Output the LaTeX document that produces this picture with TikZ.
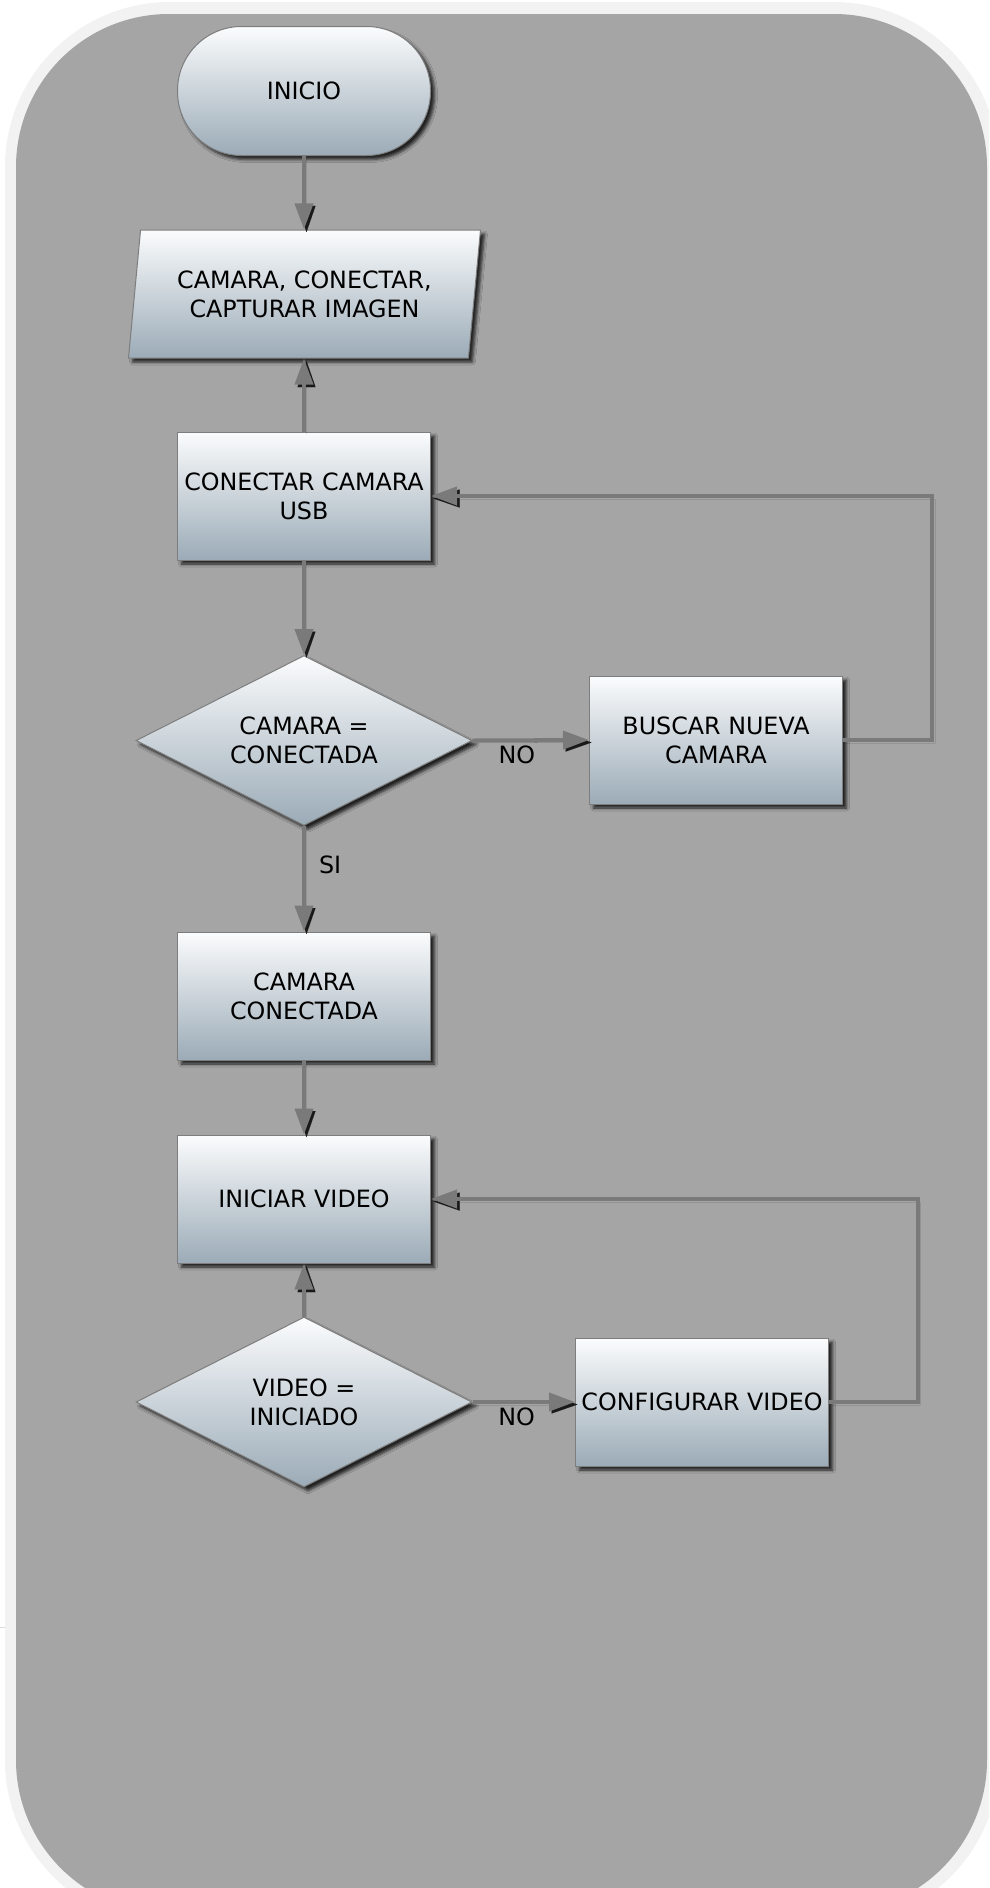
\documentclass[tikz,border=0pt]{standalone}
\usepackage{fontspec}
\setmainfont{DejaVu Sans}
\usetikzlibrary{shapes.geometric,arrows.meta,shadows.blur,calc}

\definecolor{pagebg}{RGB}{165,165,165}
\definecolor{band}{RGB}{242,242,242}
\definecolor{shadetop}{RGB}{251,252,253}
\definecolor{shadebot}{RGB}{155,171,183}
\definecolor{edge}{RGB}{125,125,125}
\definecolor{wire}{RGB}{122,122,122}

\tikzset{
  box/.style={draw=edge, line width=1pt, top color=shadetop, bottom color=shadebot,
    inner sep=0pt, align=center, font=\fontsize{23.8}{29}\selectfont, text=black,
    blur shadow={shadow xshift=4pt, shadow yshift=-4pt, shadow blur radius=3pt, shadow opacity=80}},
  terminal/.style={box, rectangle, rounded corners=64pt, minimum width=253pt, minimum height=129pt},
  ioshape/.style={box, trapezium, trapezium left angle=75.6, trapezium right angle=104.4,
    trapezium stretches body, minimum width=352pt, minimum height=128pt},
  process/.style={box, rectangle, minimum width=253pt, minimum height=128pt},
  decision/.style={box, diamond, aspect=2, minimum width=336pt, minimum height=170pt},
  tipshape/.tip={Triangle[length=26pt,width=18pt]},
  flow/.style={draw=wire, line width=4pt, line join=miter, -tipshape,
    preaction={draw=black!90, line width=0.01pt, -tipshape,
      transform canvas={shift={(2.5pt,-2.5pt)}}}},
  lbl/.style={inner sep=0pt, font=\fontsize{23.8}{29}\selectfont, text=black},
}

\begin{document}
\begin{tikzpicture}[x=1pt,y=-1pt]
  \useasboundingbox (0,0) rectangle (989,1888);
  \clip (0,0) rectangle (989,1888);

  % rounded panel behind the chart
  \fill[band, rounded corners=165pt] (5,2) rectangle (999,1925);
  \fill[pagebg, rounded corners=153pt] (16,14) rectangle (987,1913);
  \draw[band!80!gray, line width=1pt] (0,1627) -- (5,1627);

  % steps
  \node[terminal] (inicio) at (304,91) {INICIO};
  \node[ioshape]  (cam)    at (304.5,294) {CAMARA, CONECTAR,\\CAPTURAR IMAGEN};
  \node[process]  (usb)    at (304,496) {CONECTAR CAMARA\\USB};
  \node[decision] (d1)     at (304,740.5) {CAMARA =\\CONECTADA};
  \node[process]  (buscar) at (716,740) {BUSCAR NUEVA\\CAMARA};
  \node[process]  (ok)     at (304,996) {CAMARA\\CONECTADA};
  \node[process]  (video)  at (304,1199) {INICIAR VIDEO};
  \node[decision] (d2)     at (304,1402) {VIDEO =\\INICIADO};
  \node[process]  (config) at (702,1402) {CONFIGURAR VIDEO};

  \coordinate (loopA) at (932,496);
  \coordinate (loopB) at (917.5,1199);

  % connectors
  \draw[flow] (inicio.south) -- (inicio.south |- cam.north);
  \draw[flow] (usb.north) -- (usb.north |- cam.south);
  \draw[flow] (usb.south) -- (d1.north);
  \draw[flow] (d1.east) -- node[lbl, pos=0.38, below=4pt] {NO} (buscar.west);
  \draw[flow] (buscar.east) -| (loopA) -- (usb.east);
  \draw[flow] (d1.south) -- node[lbl, pos=0.37, right=13pt] {SI} (ok.north);
  \draw[flow] (ok.south) -- (video.north);
  \draw[flow] (d2.north) -- (video.south);
  \draw[flow] (d2.east) -- node[lbl, pos=0.43, below=4pt] {NO} (config.west);
  \draw[flow] (config.east) -| (loopB) -- (video.east);
\end{tikzpicture}
\end{document}
